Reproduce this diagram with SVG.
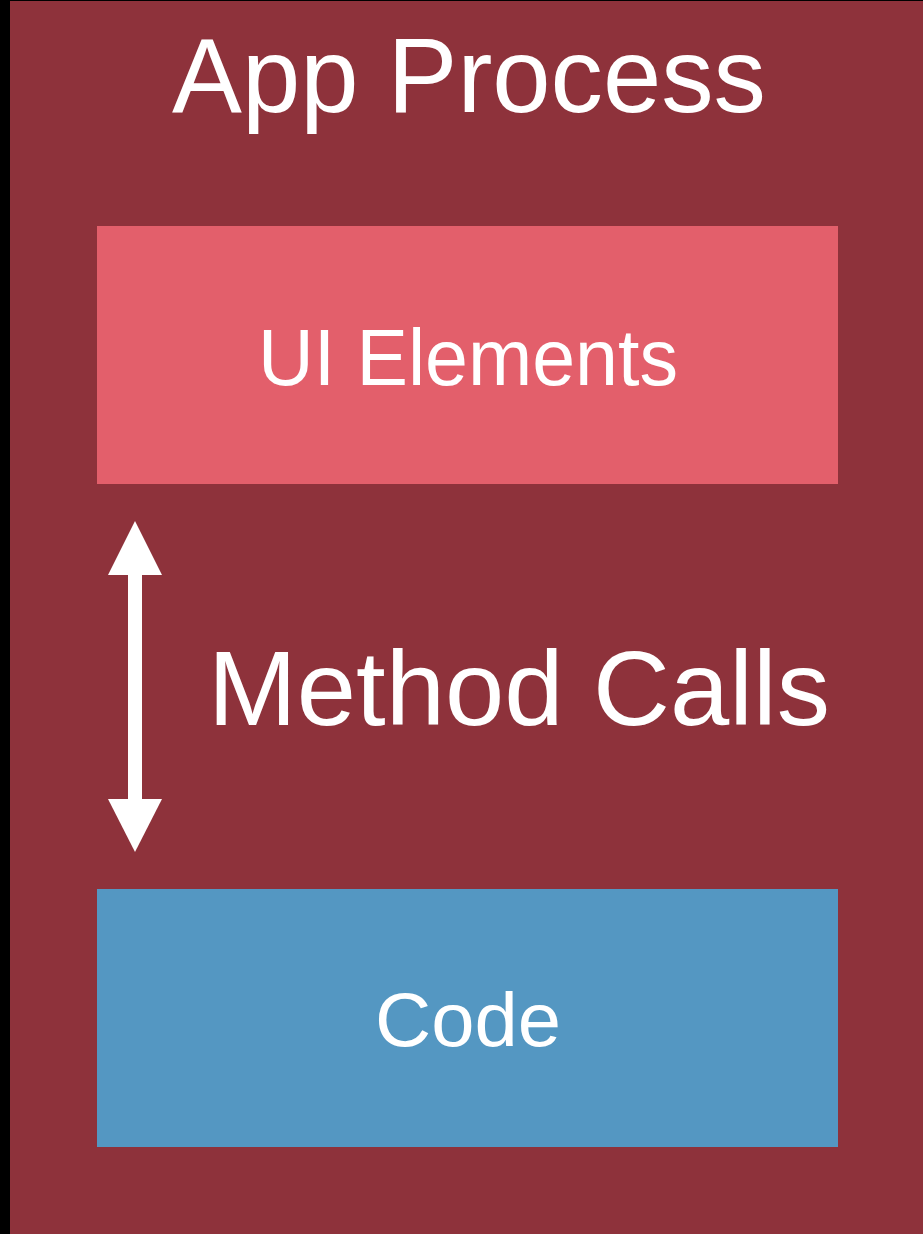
<svg xmlns="http://www.w3.org/2000/svg" width="923" height="1234" viewBox="0 0 923 1234">
<style>
text{font-family:"Liberation Sans",Arial,sans-serif;fill:#ffffff}
.c{text-anchor:middle}
</style>
<rect x="0" y="0" width="923" height="1234" fill="#000000"/>
<g id="app-process">
<rect x="10" y="1" width="913" height="1233" fill="#8e323b"/>
<text class="c" x="469" y="112" font-size="105" textLength="594" lengthAdjust="spacingAndGlyphs">App Process</text>
</g>
<g id="ui-elements">
<rect x="97" y="226" width="741" height="258" fill="#e35f6b"/>
<text class="c" x="468" y="385" font-size="79" textLength="420" lengthAdjust="spacingAndGlyphs">UI Elements</text>
</g>
<g id="code">
<rect x="97" y="889" width="741" height="258" fill="#5497c2"/>
<text class="c" x="468" y="1046" font-size="76" textLength="186" lengthAdjust="spacingAndGlyphs">Code</text>
</g>
<g id="connectors">
<rect x="128" y="574" width="14" height="226" fill="#ffffff"/>
<polygon points="135,521 162,575 108,575" fill="#ffffff"/>
<polygon points="108,799 162,799 135,852" fill="#ffffff"/>
<text x="208" y="725" font-size="105" textLength="622" lengthAdjust="spacingAndGlyphs">Method Calls</text>
</g>
</svg>
